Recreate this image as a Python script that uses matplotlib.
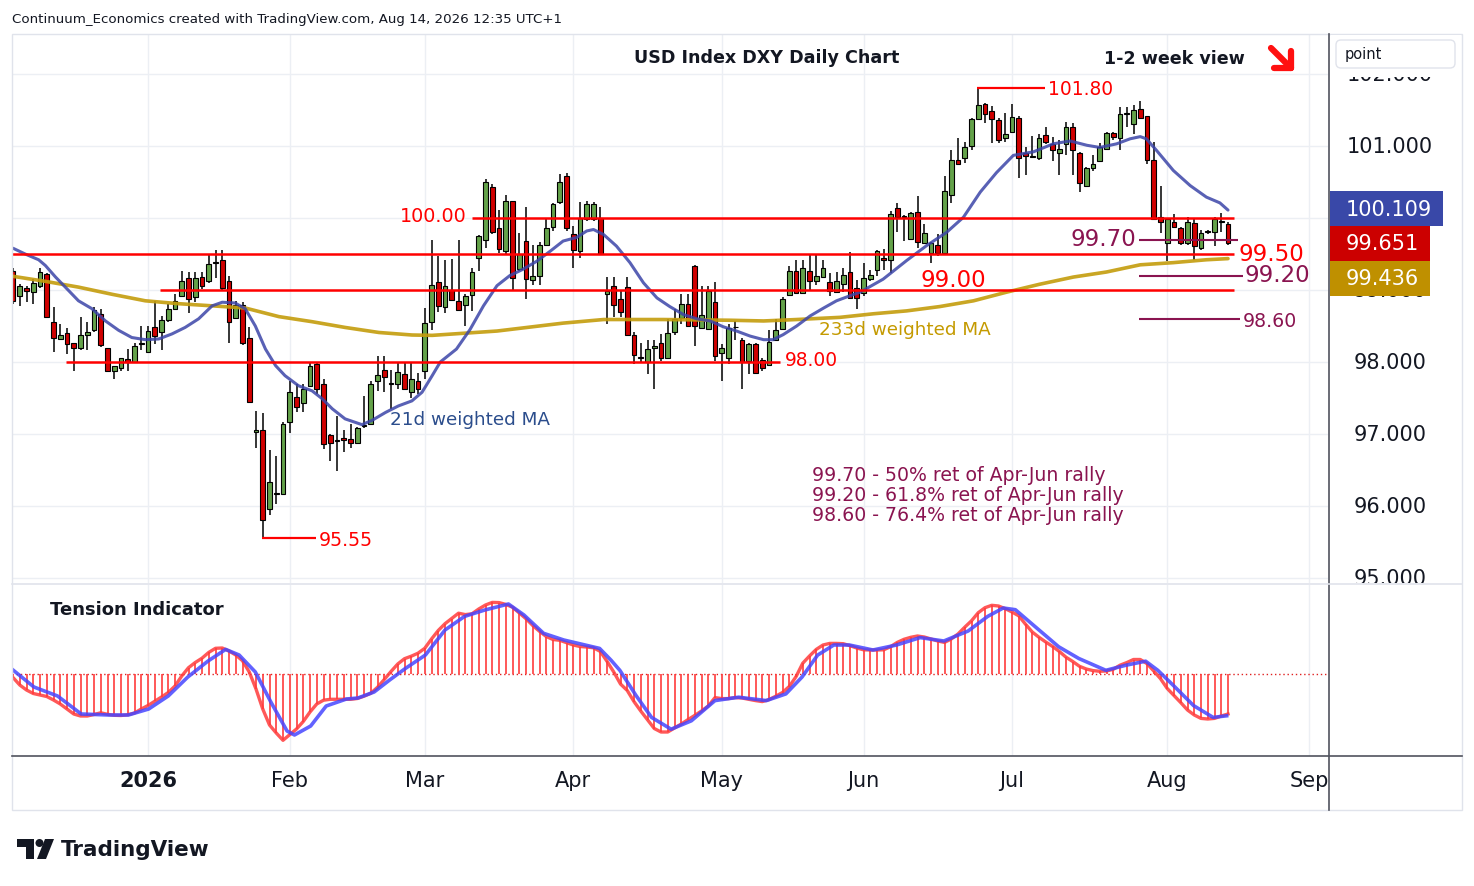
import numpy as np
import pandas as pd
import matplotlib
matplotlib.use('Agg')
import matplotlib.pyplot as plt
from matplotlib.patches import Rectangle, FancyBboxPatch, Polygon, Circle
from matplotlib.transforms import blended_transform_factory

# ---------------- data ----------------
opens = [99.27, 98.91, 99.03, 98.97, 99.05, 99.22, 98.55, 98.32, 98.40, 98.26,
         98.20, 98.37, 98.45, 98.66, 98.19, 97.88, 97.91, 98.04, 98.00, 98.25,
         98.14, 98.48, 98.41, 98.58, 98.73, 98.91, 99.16, 98.90, 99.18, 99.12,
         99.37, 99.42, 99.13, 98.61, 98.79, 98.33, 97.03, 97.05, 95.96, 96.16,
         96.17, 97.17, 97.51, 97.43, 97.66, 97.97, 97.69, 96.99, 96.90, 96.95,
         96.93, 96.88, 97.11, 97.14, 97.73, 97.89, 97.69, 97.69, 97.84, 97.58,
         97.74, 97.87, 98.55, 99.11, 98.77, 99.00, 98.85, 98.79, 98.93, 99.45,
         99.69, 100.43, 99.86, 99.54, 100.23, 99.29, 99.68, 99.14, 99.19, 99.63,
         99.87, 100.22, 100.58, 99.78, 99.54, 99.98, 99.99, 100.00, 98.94, 99.05,
         98.87, 99.04, 98.37, 98.06, 98.00, 98.19, 98.27, 98.05, 98.41, 98.61,
         98.81, 99.33, 98.47, 98.46, 98.84, 98.12, 98.05, 98.48, 98.30, 98.02,
         98.25, 98.03, 97.96, 98.30, 98.46, 98.93, 99.27, 98.96, 99.27, 99.13,
         99.18, 99.11, 98.97, 99.09, 99.25, 99.03, 98.96, 99.15, 99.28, 99.44,
         99.42, 100.14, 100.03, 99.71, 100.09, 99.65, 99.52, 99.63, 99.51, 100.32,
         100.80, 100.83, 101.00, 101.37, 101.58, 101.48, 101.36, 101.11, 101.20, 101.39,
         100.90, 100.85, 100.83, 101.15, 101.03, 100.90, 101.03, 101.26, 100.90, 100.45,
         100.69, 100.79, 100.96, 101.18, 101.11, 101.44, 101.31, 101.51, 101.41, 100.81,
         100.01, 99.65, 99.95, 99.86, 99.65, 99.93, 99.58, 99.81, 99.80, 99.94, 99.92]
closes = [98.85, 99.06, 98.98, 99.10, 99.25, 98.63, 98.33, 98.38, 98.25, 98.20,
          98.38, 98.41, 98.72, 98.23, 97.88, 97.94, 98.05, 98.00, 98.22, 98.27,
          98.43, 98.36, 98.59, 98.73, 98.85, 99.13, 98.88, 99.17, 99.05, 99.36,
          99.38, 99.03, 98.55, 98.79, 98.26, 97.45, 97.05, 95.80, 96.33, 96.18,
          97.14, 97.59, 97.37, 97.63, 97.94, 97.63, 96.86, 96.88, 96.92, 96.91,
          96.88, 97.09, 97.12, 97.69, 97.82, 97.79, 97.70, 97.86, 97.63, 97.77,
          97.63, 98.54, 99.07, 98.78, 99.05, 98.86, 98.72, 98.91, 99.25, 99.75,
          100.50, 99.81, 99.57, 100.23, 99.17, 99.50, 99.15, 99.19, 99.63, 99.86,
          100.19, 100.50, 99.86, 99.55, 100.00, 100.19, 100.19, 99.50, 98.98, 98.79,
          98.69, 98.38, 98.10, 98.07, 98.18, 98.22, 98.05, 98.40, 98.60, 98.81,
          98.50, 98.50, 98.65, 98.98, 98.08, 98.20, 98.47, 98.48, 98.00, 98.25,
          97.85, 97.91, 98.28, 98.45, 98.87, 99.26, 98.96, 99.30, 99.13, 99.19,
          99.31, 98.98, 99.12, 99.21, 98.89, 98.89, 99.17, 99.21, 99.54, 99.42,
          100.06, 100.01, 100.01, 100.07, 99.67, 99.79, 99.65, 99.52, 100.37, 100.81,
          100.75, 100.99, 101.38, 101.57, 101.44, 101.37, 101.09, 101.17, 101.40, 100.83,
          100.86, 100.86, 101.11, 101.06, 100.94, 100.96, 101.26, 100.94, 100.49, 100.69,
          100.75, 100.98, 101.18, 101.13, 101.44, 101.46, 101.50, 101.39, 100.80, 99.98,
          99.95, 99.98, 99.88, 99.65, 99.95, 99.61, 99.79, 99.81, 99.98, 99.95, 99.65]
highs = [99.30, 99.08, 99.06, 99.15, 99.31, 99.23, 98.76, 98.53, 98.47, 98.27,
         98.63, 98.55, 98.76, 98.73, 98.19, 97.95, 98.06, 98.18, 98.26, 98.50,
         98.50, 98.85, 98.64, 98.81, 98.94, 99.26, 99.25, 99.25, 99.25, 99.50,
         99.55, 99.55, 99.20, 98.85, 98.83, 98.48, 97.32, 97.29, 96.78, 96.70,
         97.16, 97.73, 97.69, 97.69, 97.99, 97.98, 97.76, 97.00, 97.25, 97.06,
         97.14, 97.10, 97.53, 97.73, 98.08, 98.08, 97.89, 97.99, 97.99, 97.99,
         97.85, 98.75, 99.69, 99.47, 99.42, 99.43, 99.69, 98.94, 99.31, 99.76,
         100.54, 100.47, 100.11, 100.32, 100.24, 99.79, 100.15, 99.63, 99.66, 100.00,
         100.21, 100.61, 100.63, 99.89, 100.22, 100.23, 100.22, 100.15, 99.18, 99.18,
         98.99, 99.18, 98.41, 98.27, 98.30, 98.30, 98.39, 98.60, 98.74, 98.94,
         98.94, 99.35, 99.06, 99.06, 99.11, 98.25, 98.53, 98.57, 98.34, 98.26,
         98.26, 98.06, 98.45, 98.60, 98.90, 99.34, 99.41, 99.42, 99.48, 99.49,
         99.41, 99.24, 99.25, 99.31, 99.53, 99.14, 99.38, 99.28, 99.55, 99.57,
         100.10, 100.21, 100.04, 100.08, 100.31, 99.91, 99.66, 99.78, 100.58, 100.95,
         101.11, 101.06, 101.39, 101.81, 101.60, 101.55, 101.39, 101.46, 101.59, 101.42,
         100.99, 101.14, 101.16, 101.27, 101.13, 101.09, 101.33, 101.32, 100.91, 100.71,
         100.87, 101.04, 101.20, 101.20, 101.54, 101.54, 101.57, 101.63, 101.42, 101.06,
         100.45, 99.99, 100.05, 99.87, 100.01, 99.98, 99.84, 99.84, 100.01, 100.07, 99.94]
lows = [98.80, 98.78, 98.83, 98.81, 99.03, 98.61, 98.14, 98.30, 98.11, 97.87,
        98.17, 98.17, 98.41, 98.21, 97.86, 97.76, 97.87, 97.88, 98.00, 98.16,
        98.14, 98.25, 98.17, 98.55, 98.72, 98.90, 98.68, 98.83, 99.02, 99.10,
        99.16, 99.00, 98.26, 98.60, 98.24, 97.43, 96.81, 95.55, 95.87, 96.03,
        96.16, 97.01, 97.30, 97.31, 97.65, 97.56, 96.79, 96.63, 96.49, 96.75,
        96.81, 96.87, 97.09, 97.13, 97.60, 97.59, 97.35, 97.63, 97.62, 97.50,
        97.56, 97.76, 98.44, 98.69, 98.68, 98.85, 98.71, 98.50, 98.71, 99.27,
        99.59, 99.78, 99.51, 99.48, 98.98, 99.27, 98.88, 99.07, 99.07, 99.62,
        99.82, 100.19, 99.82, 99.30, 99.45, 99.96, 99.96, 99.49, 98.53, 98.63,
        98.62, 98.37, 97.97, 97.99, 97.83, 97.63, 98.02, 98.04, 98.38, 98.53,
        98.48, 98.22, 98.46, 98.44, 98.02, 97.73, 97.97, 98.30, 97.63, 97.83,
        97.84, 97.87, 97.95, 98.29, 98.44, 98.92, 98.94, 98.94, 98.99, 99.07,
        99.17, 98.91, 98.96, 98.97, 98.87, 98.74, 98.91, 99.12, 99.19, 99.28,
        99.24, 99.81, 99.68, 99.70, 99.58, 99.64, 99.38, 99.47, 99.50, 100.21,
        100.74, 100.76, 100.95, 101.36, 101.32, 101.04, 101.04, 101.06, 101.19, 100.56,
        100.60, 100.84, 100.80, 101.03, 100.79, 100.60, 100.88, 100.60, 100.36, 100.44,
        100.65, 100.78, 100.95, 101.09, 100.95, 101.27, 101.16, 101.38, 100.75, 99.97,
        99.79, 99.40, 99.86, 99.63, 99.63, 99.42, 99.56, 99.78, 99.61, 99.81, 99.63]

# 21d weighted MA (candle index, value)
ma21_idx = [0, 1.8, 3.8, 4.8, 6.3, 7.75, 9.7, 11.7, 13.7, 15.65,
            17.6, 19.6, 21.6, 23.55, 25.5, 27.5, 29.5, 31, 32.9, 34.4,
            35.9, 37.4, 38.9, 40.3, 42.3, 44.3, 45.8, 47.3, 49.2, 51.7,
            53.2, 55.2, 57.1, 59.1, 60.6, 62.1, 63.3, 65.7, 67.7, 69.7,
            71.7, 73.6, 75.6, 77.6, 79.6, 81.5, 83.5, 85, 86, 87.5,
            89.4, 91.4, 93.4, 95.4, 97.3, 99.3, 101.3, 103.3, 105.2, 107.2,
            109.2, 111.2, 112.6, 114.1, 116.1, 118.1, 120.1, 122, 124, 125.5,
            128.9, 132.4, 135.4, 138.3, 140.8, 143.3, 145.7, 148.2, 151.2, 154.1,
            156.6, 159.1, 161, 163.5, 165.5, 167, 167.9, 169.4, 171.9, 174.4,
            176.8, 178.8, 180]
ma21_val = [99.58, 99.50, 99.42, 99.34, 99.18, 99.04, 98.85, 98.74, 98.57, 98.44,
            98.34, 98.31, 98.32, 98.39, 98.48, 98.60, 98.78, 98.83, 98.82, 98.74,
            98.50, 98.18, 97.95, 97.81, 97.67, 97.60, 97.49, 97.35, 97.21, 97.13,
            97.19, 97.30, 97.39, 97.46, 97.58, 97.81, 98.00, 98.18, 98.45, 98.78,
            99.06, 99.20, 99.29, 99.40, 99.54, 99.68, 99.73, 99.82, 99.84, 99.77,
            99.61, 99.38, 99.10, 98.89, 98.77, 98.66, 98.60, 98.57, 98.49, 98.43,
            98.36, 98.31, 98.31, 98.38, 98.50, 98.64, 98.75, 98.85, 98.92, 98.97,
            99.15, 99.41, 99.62, 99.80, 100.01, 100.36, 100.63, 100.87, 100.92, 101.03,
            101.07, 101.01, 100.98, 101.03, 101.10, 101.13, 101.10, 100.94, 100.66, 100.45,
            100.29, 100.21, 100.11]
# 233d weighted MA
ma233_idx = [0, 4.8, 9.7, 14.7, 19.6, 24.5, 29.5, 34.4, 39.4, 44.3, 49.2, 54.2,
             59.1, 62.1, 71.7, 81.5, 87.5, 96.3, 106.2, 111.2, 116.1, 122.5, 127.5,
             132.4, 137.3, 142.3, 147.2, 152.1, 157.1, 162, 167, 171.9, 176.8, 180]
ma233_val = [99.19, 99.12, 99.04, 98.94, 98.85, 98.81, 98.78, 98.75, 98.63, 98.56,
             98.48, 98.41, 98.375, 98.37, 98.43, 98.54, 98.59, 98.59, 98.58, 98.57,
             98.59, 98.62, 98.67, 98.71, 98.77, 98.85, 98.97, 99.08, 99.18, 99.25,
             99.35, 99.38, 99.42, 99.436]

# Tension indicator (one value per candle) and its signal line
tension = [-3.5, -11, -16, -19.5, -21, -22.5, -26, -30, -35, -40,
           -42, -42, -40.5, -38.8, -40.3, -41.3, -41.5, -40.8, -39, -35,
           -31.5, -27.3, -23, -18.5, -12, -2, 6.3, 11.5, 15.8, 21.6,
           25.7, 26, 23, 19, 13.3, 2, -15, -35, -51, -59,
           -66.3, -60.7, -55, -47.5, -38, -30, -26.2, -25.3, -25.3, -25.3,
           -25.3, -24.5, -22.2, -19.3, -13.3, -5.5, 2.5, 10, 15.3, 17.8,
           20.8, 25.7, 35, 43.5, 50.3, 55.5, 60.8, 59.4, 60.2, 65,
           69, 71.6, 71.4, 69.6, 66.8, 61, 55.3, 48.5, 42.7, 37.5,
           34.5, 33.7, 31.4, 29, 27.5, 27, 26.2, 22.6, 12.7, 2,
           -10, -16.5, -27.6, -37, -45.8, -54.5, -58, -58, -54, -50,
           -45.6, -41.4, -37, -32, -23.6, -24.6, -24.6, -23.6, -24, -25.3,
           -26.6, -27.6, -25.6, -22.2, -18.5, -12.5, -2.7, 10.8, 18, 24.6,
           29, 30.6, 30.6, 30.3, 28.3, 26, 24.2, 24, 24, 24.2,
           27.3, 31.6, 34.7, 36.7, 38, 37, 35, 33, 31.6, 35,
           40, 46.8, 53.2, 61.3, 66.3, 68.7, 68, 65.3, 62, 58.2,
           49.8, 42, 36.7, 32, 27.6, 22.6, 16.8, 12.5, 7.7, 5,
           3.4, 2.7, 3, 4.7, 8.8, 11.4, 14.5, 14.5, 10.4, 3,
           -4.7, -14.5, -21.5, -28.6, -36, -41, -44.4, -45, -44.4, -42, -40]
signal_idx = [0, 3.1, 6.6, 10.1, 14.2, 17.1, 20.1, 23, 25.9, 28.9, 31.5, 33.5, 35.9,
              38.2, 40.6, 41.7, 44.1, 46.4, 49.4, 51.1, 53.5, 55.8, 58.1, 61.1, 64,
              66.9, 69.9, 73.4, 75.7, 78.6, 81.6, 86.9, 88.6, 89.9, 91.4, 92.3, 94.6,
              97.5, 100.5, 104, 107.5, 111.6, 114.5, 116.9, 119.2, 121.6, 123.9, 127.4,
              130.9, 134.4, 137.9, 141.5, 144.4, 146.7, 148.5, 151.4, 154.9, 157.9,
              161.9, 164.9, 167.8, 169.6, 171.9, 174.9, 177.8, 179.8]
signal_val = [4, -13, -22, -40, -41, -41, -35, -22, -3, 13, 24.6, 19, 2, -28, -57, -61,
              -52, -32, -25, -24, -18, -6, 5.4, 19, 44, 57.6, 64, 70, 59, 40.7, 34, 25.6,
              13.8, 3.7, -12, -21.5, -43.4, -55.2, -46.8, -26.6, -23.2, -26.6, -19.9, -3,
              18.9, 29, 29, 24, 29, 36.4, 33, 43, 57.6, 66, 64.3, 47.5, 27.3, 15.5, 3.7,
              8.8, 12.8, 3.7, -11.4, -31.6, -43.4, -41.8]

month_labels = ['2026', 'Feb', 'Mar', 'Apr', 'May', 'Jun', 'Jul', 'Aug', 'Sep']
month_starts = ['2026-01-02', '2026-02-02', '2026-03-02', '2026-04-01', '2026-05-01',
                '2026-06-01', '2026-07-01', '2026-08-03', '2026-09-01']
price_ticks = [95, 96, 97, 98, 99, 101, 102]   # 100.000 is hidden behind the tags
last_close = 99.651
ma21_last = 100.109
ma233_last = 99.436

# ---------------- calendar ----------------
N = len(closes)
holidays = [pd.Timestamp('2025-12-25'), pd.Timestamp('2026-01-01')]
days = [d for d in pd.bdate_range('2025-11-01', '2026-09-30') if d not in holidays]
pos = {d: n for n, d in enumerate(days)}
offset = pos[pd.Timestamp('2026-08-14')] - (N - 1)
month_idx = [pos[pd.Timestamp(m)] - offset for m in month_starts]
idx = np.arange(N)

# ---------------- layout helpers (pixel -> axes units) ----------------
W, H = 1474, 887
def fx(px): return px / W
def fy(py): return 1 - py / H
def xi(px): return (px - 13) / 6.75
def pr(py): return 100 - (py - 219) / 72.0

fig = plt.figure(figsize=(W / 100, H / 100), dpi=100)
fig.patch.set_facecolor('white')
plt.rcParams['font.family'] = ['DejaVu Sans']

RED = '#ff0000'
MAROON = '#8a1450'
GOLD = '#c49c0c'
NAVY = '#3c45a8'
TXT = '#131722'
GRID = '#eceff4'

# ---------------- main price axes ----------------
ax = fig.add_axes([fx(12), fy(584), fx(1328) - fx(12), fy(35) - fy(584)])
ax.set_xlim(xi(12), xi(1328))
ax.set_ylim(pr(584), pr(35))
ax.set_xticks([]); ax.set_yticks([])
for s in ax.spines.values():
    s.set_visible(False)
for p in range(95, 103):
    ax.axhline(p, color=GRID, lw=1, zorder=0)
for m in month_idx:
    ax.axvline(m, color=GRID, lw=1, zorder=0)

o = np.array(opens); c = np.array(closes); hi = np.array(highs); lo = np.array(lows)
up = c >= o
ax.vlines(idx, lo, hi, color='black', lw=1.1, zorder=3)
body_bot = np.minimum(o, c)
body_h = np.maximum(np.abs(c - o), 0.012)
ax.bar(idx[up], body_h[up], bottom=body_bot[up], width=0.68, color='#64a24a',
       edgecolor='black', linewidth=0.8, zorder=4)
ax.bar(idx[~up], body_h[~up], bottom=body_bot[~up], width=0.68, color='#d00000',
       edgecolor='black', linewidth=0.8, zorder=4)

ax.plot(ma233_idx, ma233_val, color=GOLD, lw=2.6, alpha=0.9, zorder=5,
        solid_capstyle='round', solid_joinstyle='round')
ax.plot(ma21_idx, ma21_val, color=NAVY, lw=2.2, alpha=0.85, zorder=5,
        solid_capstyle='round', solid_joinstyle='round')

# horizontal levels
def hline(y, px0, px1, col, lw=1.8):
    ax.plot([xi(px0), xi(px1)], [y, y], color=col, lw=lw, zorder=6, solid_capstyle='butt',
            clip_on=False)

hline(100.0, 472, 1234, RED)
hline(99.5, 12, 1234, RED)
hline(99.0, 160, 1234, RED)
hline(98.0, 66, 780, RED)
hline(101.80, 977, 1045, RED, 1.6)
hline(95.55, 262, 316, RED, 1.6)
hline(99.70, 1139, 1238, MAROON, 1.5)
hline(99.20, 1139, 1243, MAROON, 1.5)
hline(98.60, 1139, 1240, MAROON, 1.5)

def label(txt, px, price, col, size, ha='left'):
    ax.text(xi(px), price, txt, color=col, fontsize=size, ha=ha, va='center',
            zorder=7, clip_on=False)

label('100.00', 467, 100.03, RED, 13.8, ha='right')
label('99.50', 1238, 99.51, RED, 16.5)
label('99.00', 920, 99.15, RED, 16.5)
label('98.00', 785, 98.03, RED, 13.4)
label('101.80', 1048, 101.80, RED, 13.4)
label('95.55', 319, 95.54, RED, 13.6)
label('99.70', 1136, 99.71, MAROON, 16.5, ha='right')
label('99.20', 1245, 99.21, MAROON, 16.5)
label('98.60', 1243, 98.58, MAROON, 13.6)
ax.text(xi(819), pr(330), '233d weighted MA', color='#c49a00', fontsize=13.2,
        ha='left', va='center', zorder=7)
ax.text(xi(390), pr(420), '21d weighted MA', color='#2b4d8c', fontsize=13.2,
        ha='left', va='center', zorder=7)
for k, t in enumerate(['99.70 - 50% ret of Apr-Jun rally',
                       '99.20 - 61.8% ret of Apr-Jun rally',
                       '98.60 - 76.4% ret of Apr-Jun rally']):
    ax.text(xi(812), pr(475 + 20 * k), t, color=MAROON, fontsize=13.6,
            ha='left', va='center', zorder=7)

# ---------------- tension indicator axes ----------------
ax2 = fig.add_axes([fx(12), fy(757), fx(1328) - fx(12), fy(586) - fy(757)])
ax2.set_xlim(xi(12), xi(1328))
ax2.set_ylim(-82, 89)
ax2.set_xticks([]); ax2.set_yticks([])
for s in ax2.spines.values():
    s.set_visible(False)
for m in month_idx:
    ax2.axvline(m, color=GRID, lw=1, zorder=0)
tv = np.array(tension)
ax2.axhline(0, color='#e02020', lw=1.0, ls=(0, (1, 2)), zorder=1)
ax2.vlines(idx, 0, tv, color='#ff3b3b', lw=1.4, alpha=0.85, zorder=2)
ax2.plot(idx, tv, color='#ff3b3b', lw=2.4, alpha=0.85, zorder=3, solid_joinstyle='round')
ax2.plot(signal_idx, signal_val, color='#4646ff', lw=2.6, alpha=0.85, zorder=4,
         solid_joinstyle='round')

# ---------------- right price scale ----------------
axr = fig.add_axes([fx(1329), fy(584), fx(1462) - fx(1329), fy(35) - fy(584)])
axr.set_xlim(1329, 1462)
axr.set_ylim(pr(584), pr(35))
axr.axis('off')
for p in price_ticks:
    axr.text(1390, p, f'{p:.3f}', color=TXT, fontsize=15, ha='center', va='center',
             clip_on=True)

def tag(center_px, x1, value, col):
    h = 17.5 / 72.0
    cy = pr(center_px)
    axr.add_patch(Rectangle((1330, cy - h), x1 - 1330, 2 * h, facecolor=col,
                            edgecolor='none', zorder=5))
    axr.text((1330 + x1) / 2 + 2, cy, f'{value:.3f}', color='white', fontsize=15,
             ha='center', va='center', zorder=6)

tag(209.5, 1443, ma21_last, '#3948a8')
tag(244.3, 1430, last_close, '#cc0000')
tag(279.2, 1430, ma233_last, '#bf9000')

# ---------------- overlay (frame, titles, logo) ----------------
ov = fig.add_axes([0, 0, 1, 1])
ov.set_xlim(0, W); ov.set_ylim(H, 0)
ov.axis('off')
ov.patch.set_alpha(0)

ov.add_patch(Rectangle((12, 35), 1450, 776, fill=False, edgecolor='#e0e3eb', lw=1))
ov.plot([1329, 1329], [35, 811], color='#50535e', lw=1.2)
ov.plot([12, 1462], [757, 757], color='#50535e', lw=1.2)
ov.plot([12, 1462], [585, 585], color='#e0e3eb', lw=1.2)

ov.add_patch(Rectangle((1331, 36), 130, 41.5, facecolor='white', edgecolor='none', zorder=7))
ov.add_patch(FancyBboxPatch((1336, 41), 119, 28, boxstyle='round,pad=0,rounding_size=5',
                            facecolor='white', edgecolor='#e0e3eb', lw=1, zorder=8))
ov.text(1345, 54, 'point', fontsize=10.5, color=TXT, ha='left', va='center', zorder=9)

ov.text(12, 19, 'Continuum_Economics created with TradingView.com, Aug 14, 2026 12:35 UTC+1',
        fontsize=9.6, color=TXT, ha='left', va='center')
ov.text(767, 58, 'USD Index DXY Daily Chart', fontsize=12.6, color=TXT, ha='center',
        va='center', fontweight='semibold')
ov.text(1174, 59, '1-2 week view', fontsize=12.6, color=TXT, ha='center', va='center',
        fontweight='semibold')
ov.plot([1271, 1291], [49, 69], color='#ff1010', lw=4.5, solid_capstyle='round')
ov.plot([1291, 1291], [52, 69], color='#ff1010', lw=4.5, solid_capstyle='round')
ov.plot([1274, 1291], [69, 69], color='#ff1010', lw=4.5, solid_capstyle='round')
ov.text(50, 610, 'Tension Indicator', fontsize=13, color=TXT, ha='left', va='center',
        fontweight='semibold')

btr = blended_transform_factory(ax2.transData, ov.transData)
for m, lab in zip(month_idx, month_labels):
    ov.text(m, 781, lab, transform=btr, fontsize=15, color=TXT, ha='center', va='center',
            fontweight='bold' if lab == '2026' else 'normal')

# TradingView logo
ov.add_patch(Polygon([(17, 840), (34, 840), (34, 860), (26, 860), (26, 848), (17, 848)],
                     closed=True, facecolor=TXT, edgecolor='none'))
ov.add_patch(Circle((39.5, 844), 4, facecolor=TXT, edgecolor='none'))
ov.add_patch(Polygon([(45, 840), (54, 840), (46, 860), (37, 860)], closed=True,
                     facecolor=TXT, edgecolor='none'))
ov.text(61, 850, 'TradingView', fontsize=15.5, color=TXT, ha='left', va='center',
        fontweight='bold')

fig.savefig('out.png', dpi=100, facecolor='white')
